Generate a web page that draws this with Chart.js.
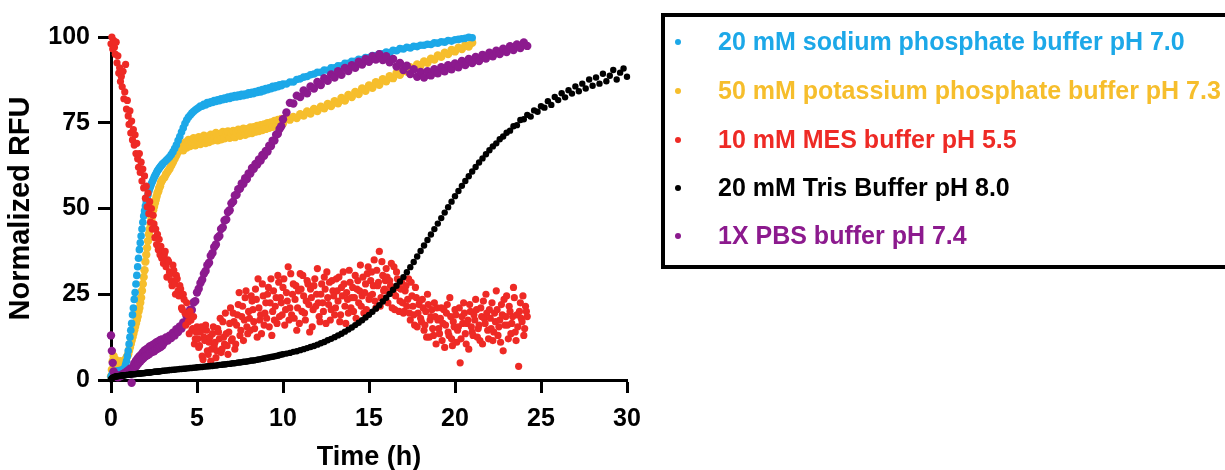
<!DOCTYPE html>
<html>
<head>
<meta charset="utf-8">
<script src="https://cdn.jsdelivr.net/npm/chart.js@4.4.1/dist/chart.umd.min.js"></script>
<style>
html,body{margin:0;padding:0;background:#fff;width:1225px;height:470px;overflow:hidden;}
#wrap{position:relative;width:1225px;height:470px;}
#c{position:absolute;left:0;top:0;}
#legend{position:absolute;left:661px;top:13px;width:640px;height:256px;border:4px solid #000;box-sizing:border-box;}
.row{position:absolute;left:0;height:30px;line-height:30px;white-space:nowrap;font:bold 25px "Liberation Sans",Arial,sans-serif;}
.dot{position:absolute;left:10px;top:12px;width:6px;height:6px;border-radius:50%;}
.txt{position:absolute;left:53px;top:0;}
</style>
</head>
<body>
<div id="wrap">
<canvas id="c" width="1225" height="470"></canvas>
<div id="legend"></div>
</div>
<script>
// ---- data ----
const seriesLabels = [
  "20 mM sodium phosphate buffer pH 7.0",
  "50 mM potassium phosphate buffer pH 7.3",
  "10 mM MES buffer pH 5.5",
  "20 mM Tris Buffer pH 8.0",
  "1X PBS buffer pH 7.4"
];
const xTitle = "Time (h)";
const yTitle = "Normalized RFU";
const xTickValues = [0, 5, 10, 15, 20, 25, 30];
const yTickValues = [0, 25, 50, 75, 100];

// measurement times (h) for the smooth series
const times = [
  0,0.05,0.1,0.15,0.2,0.25,0.3,0.35,0.4,0.45,
  0.5,0.55,0.6,0.65,0.7,0.75,0.8,0.85,0.9,0.95,
  1,1.05,1.1,1.15,1.2,1.25,1.3,1.35,1.4,1.45,
  1.5,1.55,1.6,1.65,1.7,1.75,1.8,1.85,1.9,1.95,
  2,2.05,2.1,2.15,2.2,2.25,2.3,2.35,2.4,2.45,
  2.5,2.55,2.6,2.65,2.7,2.75,2.8,2.85,2.9,2.95,
  3,
  3.1,3.2,3.3,3.4,3.5,3.6,3.7,3.8,3.9,4,
  4.1,4.2,4.3,4.4,4.5,4.6,4.7,4.8,4.9,5,
  5.1,5.2,5.3,5.4,5.5,5.6,5.7,5.8,5.9,6,
  6.1,6.2,6.3,6.4,6.5,6.6,6.7,6.8,6.9,7,
  7.1,7.2,7.3,7.4,7.5,7.6,7.7,7.8,7.9,8,
  8.1,8.2,8.3,8.4,8.5,8.6,8.7,8.8,8.9,9,
  9.1,9.2,9.3,9.4,9.5,9.6,9.7,9.8,9.9,10,
  10.2,10.4,10.6,10.8,11,11.2,11.4,11.6,11.8,12,
  12.2,12.4,12.6,12.8,13,13.2,13.4,13.6,13.8,14,
  14.2,14.4,14.6,14.8,15,15.2,15.4,15.6,15.8,16,
  16.2,16.4,16.6,16.8,17,17.2,17.4,17.6,17.8,18,
  18.2,18.4,18.6,18.8,19,19.2,19.4,19.6,19.8,20,
  20.2,20.4,20.6,20.8,21,21.2,21.4,21.6,21.8,22,
  22.2,22.4,22.6,22.8,23,23.2,23.4,23.6,23.8,24,
  24.2,24.4,24.6,24.8,25,25.2,25.4,25.6,25.8,26,
  26.2,26.4,26.6,26.8,27,27.2,27.4,27.6,27.8,28,
  28.2,28.4,28.6,28.8,29,29.2,29.4,29.6,29.8,30
];

// measurement times (h) for the scattered MES series
const mesTimes = [
  0,0.05,0.1,0.15,0.2,0.25,0.3,0.35,0.4,0.45,
  0.5,0.55,0.6,0.65,0.7,0.75,0.8,0.85,0.9,0.95,
  1,1.05,1.1,1.15,1.2,1.25,1.3,1.35,1.4,1.45,
  1.5,1.55,1.6,1.65,1.7,1.75,1.8,1.85,1.9,1.95,
  2,2.05,2.1,2.15,2.2,2.25,2.3,2.35,2.4,2.45,
  2.5,2.55,2.6,2.65,2.7,2.75,2.8,2.85,2.9,2.95,
  3,
  3.05,3.1,3.15,3.2,3.25,3.3,3.35,3.4,3.45,3.5,3.55,3.6,3.65,3.7,3.75,3.8,3.85,3.9,3.95,4,
  4.05,4.1,4.15,4.2,4.25,4.3,4.35,4.4,4.45,4.5,4.55,4.6,4.65,4.7,4.75,4.8,4.85,4.9,4.95,5,
  5.05,5.1,5.15,5.2,5.25,5.3,5.35,5.4,5.45,5.5,5.55,5.6,5.65,5.7,5.75,5.8,5.85,5.9,5.95,6,
  6.05,6.1,6.15,6.2,6.25,6.3,6.35,6.4,6.45,6.5,6.55,6.6,6.65,6.7,6.75,6.8,6.85,6.9,6.95,7,
  7.05,7.1,7.15,7.2,7.25,7.3,7.35,7.4,7.45,7.5,7.55,7.6,7.65,7.7,7.75,7.8,7.85,7.9,7.95,8,
  8.05,8.1,8.15,8.2,8.25,8.3,8.35,8.4,8.45,8.5,8.55,8.6,8.65,8.7,8.75,8.8,8.85,8.9,8.95,9,
  9.05,9.1,9.15,9.2,9.25,9.3,9.35,9.4,9.45,9.5,9.55,9.6,9.65,9.7,9.75,9.8,9.85,9.9,9.95,10,
  10.05,10.1,10.15,10.2,10.25,10.3,10.35,10.4,10.45,10.5,10.55,10.6,10.65,10.7,10.75,10.8,10.85,10.9,10.95,11,
  11.05,11.1,11.15,11.2,11.25,11.3,11.35,11.4,11.45,11.5,11.55,11.6,11.65,11.7,11.75,11.8,11.85,11.9,11.95,12,
  12.05,12.1,12.15,12.2,12.25,12.3,12.35,12.4,12.45,12.5,12.55,12.6,12.65,12.7,12.75,12.8,12.85,12.9,12.95,13,
  13.05,13.1,13.15,13.2,13.25,13.3,13.35,13.4,13.45,13.5,13.55,13.6,13.65,13.7,13.75,13.8,13.85,13.9,13.95,14,
  14.05,14.1,14.15,14.2,14.25,14.3,14.35,14.4,14.45,14.5,14.55,14.6,14.65,14.7,14.75,14.8,14.85,14.9,14.95,15,
  15.05,15.1,15.15,15.2,15.25,15.3,15.35,15.4,15.45,15.5,15.55,15.6,15.65,15.7,15.75,15.8,15.85,15.9,15.95,16,
  16.05,16.1,16.15,16.2,16.25,16.3,16.35,16.4,16.45,16.5,16.55,16.6,16.65,16.7,16.75,16.8,16.85,16.9,16.95,17,
  17.05,17.1,17.15,17.2,17.25,17.3,17.35,17.4,17.45,17.5,17.55,17.6,17.65,17.7,17.75,17.8,17.85,17.9,17.95,18,
  18.05,18.1,18.15,18.2,18.25,18.3,18.35,18.4,18.45,18.5,18.55,18.6,18.65,18.7,18.75,18.8,18.85,18.9,18.95,19,
  19.05,19.1,19.15,19.2,19.25,19.3,19.35,19.4,19.45,19.5,19.55,19.6,19.65,19.7,19.75,19.8,19.85,19.9,19.95,20,
  20.05,20.1,20.15,20.2,20.25,20.3,20.35,20.4,20.45,20.5,20.55,20.6,20.65,20.7,20.75,20.8,20.85,20.9,20.95,21,
  21.05,21.1,21.15,21.2,21.25,21.3,21.35,21.4,21.45,21.5,21.55,21.6,21.65,21.7,21.75,21.8,21.85,21.9,21.95,22,
  22.05,22.1,22.15,22.2,22.25,22.3,22.35,22.4,22.45,22.5,22.55,22.6,22.65,22.7,22.75,22.8,22.85,22.9,22.95,23,
  23.05,23.1,23.15,23.2,23.25,23.3,23.35,23.4,23.45,23.5,23.55,23.6,23.65,23.7,23.75,23.8,23.85,23.9,23.95,24,
  24.05,24.1,24.15,24.2
];

const sodiumValues = [
  1.0,1.5,2.0,1.8,2.2,2.5,2.3,2.6,2.4,2.7,
  2.5,2.8,2.6,2.9,3.0,3.2,3.6,4.5,5.5,7.0,
  8.5,10.5,12.5,14.5,16.5,19.0,21.0,23.5,25.5,28.0,
  30.5,33.0,35.5,38.0,40.0,42.0,44.0,46.0,47.8,49.3,
  50.7,52.0,53.0,54.0,55.0,55.8,56.5,57.2,57.8,58.4,
  59.0,59.5,60.0,60.5,61.0,61.3,61.7,62.0,62.4,62.7,
  63.0,
  63.5,64.0,64.5,65.0,65.7,66.5,67.5,68.5,69.8,71.0,
  72.3,73.5,74.8,75.8,76.6,77.2,77.8,78.3,78.7,79.1,
  79.4,79.9,79.8,80.4,80.2,80.9,80.6,81.1,80.9,81.5,
  81.2,81.7,81.4,82.0,81.7,82.2,81.9,82.5,82.1,82.7,
  82.4,82.9,82.5,83.1,82.7,83.3,82.9,83.4,83.1,83.7,
  83.3,83.9,83.5,84.1,83.8,84.4,84.0,84.7,84.3,85.0,
  84.6,85.2,84.9,85.6,85.2,85.8,85.5,86.1,85.8,86.3,
  86.3,86.9,86.9,87.6,87.8,88.3,88.5,89.0,89.2,89.7,
  89.7,90.4,90.3,91.0,91.0,91.6,91.6,92.3,92.3,92.9,
  92.9,93.5,93.4,94.0,94.0,94.6,94.5,95.1,95.1,95.6,
  95.5,96.1,96.0,96.6,96.5,97.0,96.8,97.3,97.2,97.6,
  97.6,97.9,97.8,98.3,98.2,98.6,98.5,99.0,98.8,99.2,
  99.3,99.5,99.6,99.9,99.8
];

const potassiumValues = [
  1.0,3.0,5.5,7.0,4.0,6.0,3.0,5.0,2.5,4.0,
  3.0,5.5,3.5,4.0,4.5,5.0,5.5,6.0,6.5,7.0,
  7.5,8.5,9.5,10.5,11.5,12.5,13.5,14.5,15.5,16.5,
  17.5,18.5,20.0,21.0,22.5,24.0,26.0,28.0,30.0,32.0,
  34.5,36.5,38.5,40.5,42.5,44.0,45.5,47.0,48.0,49.5,
  50.5,51.5,52.5,53.5,54.5,55.0,56.0,56.5,57.5,58.0,
  58.5,
  59.0,60.0,60.8,61.5,62.5,63.5,64.5,65.5,66.5,67.3,
  68.0,67.0,69.2,67.8,70.0,68.2,69.4,70.5,68.4,70.0,
  70.8,68.8,70.4,71.2,69.1,70.9,69.4,71.5,69.8,71.2,
  72.0,69.9,71.5,70.2,72.3,70.5,71.9,72.5,70.6,72.0,
  72.6,70.8,72.3,73.0,71.2,72.7,73.3,71.5,73.1,71.9,
  73.6,72.0,73.7,72.4,74.1,72.6,74.3,72.9,74.5,73.2,
  74.9,73.5,75.1,73.8,75.5,74.1,75.8,74.5,76.1,74.8,
  76.4,75.9,76.7,76.4,77.5,77.1,78.3,77.7,79.0,78.4,
  79.7,79.2,80.5,79.9,81.3,80.7,82.2,81.5,83.1,82.5,
  84.0,83.4,85.0,84.3,85.9,85.2,86.8,86.1,87.7,87.1,
  88.6,88.0,89.5,89.0,90.3,89.9,91.2,90.8,92.0,91.7,
  92.9,92.5,93.7,93.4,94.6,94.2,95.4,95.0,96.2,95.8,
  96.9,96.5,97.6,97.2,98.3
];

const mesValues = [
  98.0,100.0,96.5,99.0,97.0,95.0,98.5,92.5,94.5,89.5,
  91.0,87.0,88.5,85.5,90.0,82.0,84.0,92.0,79.0,81.5,
  77.0,74.5,78.5,72.0,75.5,70.0,73.0,68.5,71.5,66.0,
  69.0,64.5,62.0,66.0,60.5,63.5,58.0,61.5,56.0,59.5,
  53.0,56.5,50.5,54.5,48.5,52.0,46.0,50.0,44.0,48.0,
  45.5,41.5,44.0,39.5,42.5,38.0,41.0,36.5,39.0,35.5,
  37.5,
  34.0,36.5,37.5,33.0,30.0,35.0,34.5,31.5,31.0,29.0,27.5,33.5,32.0,28.0,25.0,30.5,29.5,26.0,24.5,27.5,
  26.5,21.0,20.5,25.0,23.5,19.5,16.0,22.5,19.0,17.0,13.5,20.0,17.5,14.5,15.0,18.5,10.5,12.0,14.0,15.5,
  12.0,9.5,10.0,14.0,15.5,7.0,6.0,12.5,11.5,16.0,14.5,8.5,7.5,11.0,12.5,5.5,9.0,13.5,15.5,10.0,
  11.0,6.5,8.5,15.0,14.0,12.0,18.0,8.0,9.0,17.0,12.5,10.5,19.5,13.5,10.0,7.5,14.0,16.5,21.0,11.5,
  12.0,19.5,17.0,9.0,10.5,16.0,19.0,22.0,25.5,13.0,14.5,18.5,21.5,11.5,17.5,24.0,26.0,15.5,13.5,20.0,
  18.0,14.5,24.5,23.0,20.5,17.0,15.0,26.5,23.5,12.5,29.5,21.0,17.5,19.0,13.5,28.0,24.5,16.0,19.5,22.5,
  18.0,25.0,27.0,15.5,22.5,29.5,13.0,20.0,26.0,17.5,21.5,24.0,16.5,30.5,28.5,18.5,24.0,22.5,19.0,27.0,
  29.5,16.0,20.5,25.5,23.0,33.0,17.5,21.0,31.0,19.0,25.0,28.0,18.0,23.5,27.5,14.5,21.0,26.0,16.5,31.0,
  26.5,20.0,30.5,24.5,19.5,17.5,23.0,29.0,28.0,22.0,14.0,26.5,24.0,15.5,20.5,27.5,29.5,21.5,25.0,32.5,
  22.5,18.5,17.0,25.0,28.0,22.5,20.0,30.0,26.5,16.5,31.5,24.0,22.0,28.5,17.5,20.5,29.0,26.0,24.5,19.0,
  21.0,29.5,26.0,23.0,30.0,17.0,19.0,27.0,24.5,31.5,28.0,21.5,16.5,25.5,23.5,19.5,32.0,28.5,21.0,24.0,
  27.0,20.0,24.0,30.5,18.0,26.5,29.0,22.5,26.0,33.5,21.5,24.5,30.0,19.5,25.5,28.0,20.5,31.0,33.0,23.5,
  24.5,29.0,31.5,25.0,27.5,35.0,23.0,21.0,32.0,27.5,28.5,37.5,21.5,24.0,34.5,30.5,26.0,26.5,29.0,32.5,
  30.0,22.5,25.5,29.0,27.5,34.0,21.0,25.5,33.0,20.5,24.5,31.5,29.5,27.0,20.0,23.0,26.5,28.5,22.5,19.5,
  20.0,26.0,27.5,21.5,23.5,29.5,19.5,17.5,28.5,24.5,21.5,19.0,16.0,27.0,24.0,15.5,19.5,22.0,23.0,18.0,
  17.0,23.5,21.0,14.5,16.0,20.0,12.5,25.0,22.0,12.5,17.5,18.5,20.5,15.0,13.0,22.5,18.5,10.5,21.0,17.5,
  15.0,13.5,18.0,21.0,11.5,16.5,20.5,9.5,16.0,19.5,22.0,14.0,13.0,24.0,18.5,12.0,10.0,17.0,15.5,20.5,
  19.0,11.0,14.5,15.5,21.0,5.0,12.0,18.5,16.5,22.5,19.5,13.5,10.5,16.5,17.5,9.0,22.0,20.0,15.5,14.0,
  13.0,19.0,17.5,23.5,20.5,12.5,15.0,16.0,11.5,21.0,18.5,10.5,23.0,18.0,16.5,25.0,19.5,14.5,12.0,20.5,
  18.0,15.0,22.5,11.5,14.0,19.5,17.0,26.0,20.5,13.0,15.5,17.5,11.0,22.0,19.0,8.5,23.5,16.0,18.5,24.5,
  16.0,12.0,21.5,20.0,13.5,16.5,18.5,27.0,24.0,14.0,11.5,19.0,15.5,4.0,20.0,22.5,18.0,17.0,24.5,13.0,
  15.0,21.5,20.0,18.5
];

const trisValues = [
  0.2,0.5,0.7,0.8,0.9,1.0,1.0,1.1,1.1,1.2,
  1.2,1.2,1.3,1.3,1.3,1.4,1.4,1.4,1.5,1.5,
  1.5,1.5,1.6,1.6,1.6,1.7,1.7,1.7,1.7,1.8,
  1.8,1.8,1.9,1.9,1.9,1.9,2.0,2.0,2.0,2.0,
  2.1,2.1,2.1,2.2,2.2,2.2,2.2,2.3,2.3,2.3,
  2.4,2.4,2.4,2.4,2.5,2.5,2.5,2.6,2.6,2.6,
  2.7,
  2.7,2.8,2.8,2.9,2.9,3.0,3.0,3.1,3.1,3.2,
  3.2,3.3,3.3,3.4,3.4,3.5,3.5,3.6,3.6,3.7,
  3.7,3.8,3.8,3.9,3.9,4.0,4.0,4.1,4.1,4.2,
  4.2,4.3,4.4,4.4,4.5,4.5,4.6,4.7,4.7,4.8,
  4.9,4.9,5.0,5.1,5.1,5.2,5.3,5.3,5.4,5.5,
  5.6,5.7,5.7,5.8,5.9,6.0,6.1,6.2,6.3,6.4,
  6.5,6.6,6.7,6.8,6.9,7.0,7.1,7.3,7.4,7.5,
  7.7,7.9,8.2,8.4,8.7,9.0,9.3,9.6,9.9,10.3,
  10.7,11.1,11.6,12.0,12.5,13.0,13.5,14.1,14.7,15.3,
  16.0,16.7,17.4,18.2,19.0,19.9,20.8,21.8,22.9,24.0,
  25.1,26.3,27.5,28.7,30.0,31.4,32.9,34.4,36.0,37.6,
  39.2,40.8,42.4,44.0,45.6,47.2,48.8,50.4,52.0,53.6,
  55.1,56.6,58.0,59.4,60.8,62.1,63.4,64.6,65.8,67.0,
  68.1,69.0,70.2,71.0,72.1,72.7,74.0,74.3,75.8,76.0,
  77.3,76.8,78.6,78.2,79.8,79.4,81.3,80.2,82.5,81.6,
  83.6,82.4,84.5,83.5,85.6,84.2,86.4,85.0,87.6,85.8,
  88.2,86.4,89.3,87.1,88.7,90.4,87.6,89.6,90.8,88.4
];

const pbsValues = [
  13.0,8.5,5.0,2.5,1.5,1.0,1.5,1.0,0.8,1.2,
  1.0,1.4,1.2,1.6,1.5,1.9,1.8,2.2,2.1,2.6,
  2.5,3.0,2.8,3.4,-0.8,3.6,3.0,4.8,3.6,5.6,
  4.2,6.3,4.9,6.9,5.4,7.4,6.0,8.0,6.4,8.6,
  6.9,8.9,7.2,9.3,7.5,9.8,7.9,10.0,8.2,10.3,
  8.4,10.6,8.8,11.0,9.1,11.2,9.4,11.6,9.7,11.8,
  10.1,
  11.0,12.4,11.5,12.9,12.2,13.8,13.0,14.8,14.0,15.6,
  15.0,16.8,16.6,18.6,18.5,20.5,20.4,22.6,23.0,25.5,
  26.6,28.3,29.2,31.0,31.8,33.5,34.2,36.2,37.0,38.8,
  39.5,41.5,42.0,44.0,44.5,46.5,46.8,49.0,49.5,51.5,
  52.0,53.8,54.0,55.6,55.8,57.3,57.2,58.8,58.6,60.2,
  60.2,61.8,61.6,63.0,62.8,64.3,64.0,65.6,65.4,66.8,
  66.6,68.3,68.2,69.8,69.8,71.5,71.8,73.2,74.0,76.0,
  78.0,80.8,80.6,82.9,82.5,84.4,83.6,85.6,85.0,86.9,
  86.0,88.0,87.2,89.1,88.2,90.0,89.0,91.0,90.1,91.8,
  91.0,92.8,92.0,93.6,92.8,94.4,93.4,95.0,93.3,94.4,
  92.6,93.6,91.4,92.4,90.4,91.6,89.2,90.6,88.4,89.8,
  88.2,90.0,88.8,90.6,89.4,91.2,90.0,91.8,90.6,92.3,
  91.2,93.0,91.8,93.6,92.4,94.2,93.0,94.8,93.7,95.4,
  94.4,96.0,95.0,96.6,95.6,97.3,96.2,97.8,96.8,98.4,
  97.4
];

// ---- styling ----
const FONT = "'Liberation Sans', Arial, Helvetica, sans-serif";
const colors = ['#1CA8E8', '#F6BE2C', '#EE2A25', '#000000', '#8C1A8E'];
const radii = [3.8, 4.2, 3.6, 3.2, 4.2];
const drawOrder = [3, 4, 1, 0, 2];
const seriesValues = [sodiumValues, potassiumValues, mesValues, trisValues, pbsValues];
const seriesTimes = [times, times, mesTimes, times, times];

const datasets = seriesValues.map((vals, k) => ({
  label: seriesLabels[k],
  data: vals.map((v, i) => ({x: seriesTimes[k][i], y: v})),
  showLine: false,
  pointRadius: radii[k],
  pointHoverRadius: radii[k],
  pointBorderWidth: 0,
  backgroundColor: colors[k],
  borderColor: colors[k],
  order: drawOrder[k],
  clip: false
}));

const chart = new Chart(document.getElementById('c'), {
  type: 'scatter',
  data: {datasets},
  options: {
    responsive: false,
    animation: false,
    devicePixelRatio: 1,
    events: [],
    layout: {padding: {left: 0, right: 598, top: 37, bottom: 0}, autoPadding: false},
    plugins: {legend: {display: false}, tooltip: {enabled: false}},
    scales: {
      x: {
        type: 'linear', min: 0, max: 30,
        afterBuildTicks: s => { s.ticks = xTickValues.map(v => ({value: v})); },
        afterFit: s => { s.height = 90; },
        ticks: {font: {family: FONT, size: 25, weight: 'bold'}, color: '#000', padding: 11, maxRotation: 0, autoSkip: false},
        grid: {drawOnChartArea: false, drawTicks: true, tickLength: 13, tickWidth: 3, tickColor: '#000'},
        border: {display: true, width: 3, color: '#000'},
        title: {display: true, text: xTitle, color: '#000', font: {family: FONT, size: 27, weight: 'bold', lineHeight: 1}, padding: {top: 0, bottom: -1}}
      },
      y: {
        type: 'linear', min: 0, max: 100,
        afterBuildTicks: s => { s.ticks = yTickValues.map(v => ({value: v})); },
        afterFit: s => { s.width = 111; },
        ticks: {font: {family: FONT, size: 25, weight: 'bold'}, color: '#000', padding: 8, autoSkip: false},
        grid: {drawOnChartArea: false, drawTicks: true, tickLength: 13, tickWidth: 3, tickColor: '#000'},
        border: {display: true, width: 3, color: '#000'},
        title: {display: true, text: yTitle, color: '#000', font: {family: FONT, size: 29, weight: 'bold', lineHeight: 1}, padding: {top: 6, bottom: 0}}
      }
    }
  }
});

// ---- legend (built from the chart's datasets) ----
const legendTops = [10, 59, 108, 156, 204];
const legend = document.getElementById('legend');
chart.data.datasets.forEach((ds, k) => {
  const row = document.createElement('div');
  row.className = 'row';
  row.style.top = legendTops[k] + 'px';
  row.style.color = ds.backgroundColor;
  const dot = document.createElement('span');
  dot.className = 'dot';
  dot.style.background = ds.backgroundColor;
  const txt = document.createElement('span');
  txt.className = 'txt';
  txt.textContent = ds.label;
  row.appendChild(dot);
  row.appendChild(txt);
  legend.appendChild(row);
});
</script>
</body>
</html>
